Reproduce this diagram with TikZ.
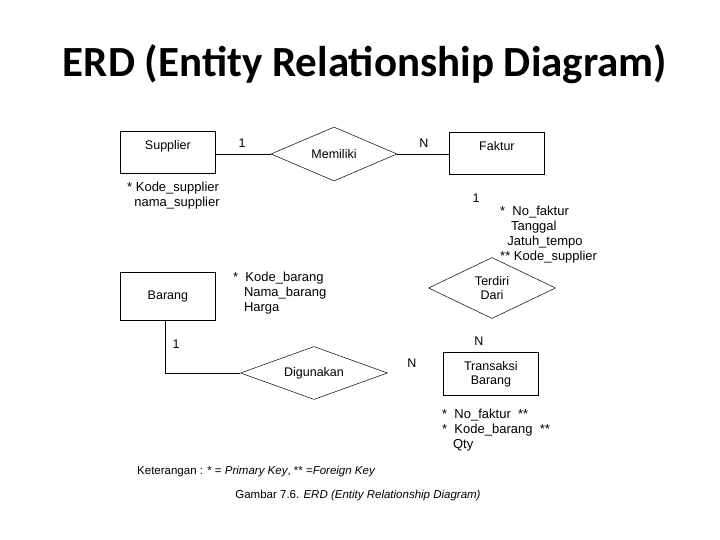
\documentclass[tikz,border=0pt]{standalone}
\usepackage{fontspec}
\setmainfont{Liberation Sans}
\newfontfamily\titlefont{Carlito}
\usetikzlibrary{shapes.geometric}
\begin{document}
\begin{tikzpicture}[x=1pt,y=-1pt,
  ent/.style={draw,line width=0.8pt,minimum width=95pt,minimum height=42pt,inner sep=0pt,font=\fontsize{12.5}{14}\selectfont,align=center},
  rel/.style={draw,line width=0.5pt,diamond,aspect=2.4,inner sep=0pt,font=\fontsize{12.5}{14}\selectfont,align=center},
  lab/.style={font=\fontsize{12.5}{14}\selectfont,inner sep=0pt},
  attr/.style={font=\fontsize{13}{15}\selectfont,inner sep=0pt,align=left,anchor=north west}]
\useasboundingbox[fill=white] (0,0) rectangle (720,540);
\node[font=\titlefont\bfseries\fontsize{43}{45}\selectfont] (title) at (365,64) {ERD (Entity Relationship Diagram)};
\node[ent,anchor=north west,text depth=14pt] (sup) at (120,131) {Supplier};
\node[ent,anchor=north west,text depth=14pt] (fak) at (449,132) {Faktur};
\node[rel,minimum width=126pt,minimum height=54pt] (mem) at (334,154) {Memiliki};
\draw[line width=0.8pt] (sup.east |- mem.west) -- (mem.west);
\draw[line width=0.8pt] (mem.east) -- (fak.west |- mem.east);
\node[lab] (l1) at (242,143) {1};
\node[lab] (n1) at (424,143) {N};
\node[attr] (supa) at (127,182) {* Kode\_supplier\\\ \ nama\_supplier};
\node[lab] (l2) at (476,198) {1};
\node[attr] (faka) at (500,206) {*\ \ No\_faktur\\\ \ \ Tanggal\\\ \ Jatuh\_tempo\\** Kode\_supplier};
\node[rel,minimum width=127pt,minimum height=61pt] (ter) at (492,288) {Terdiri\\Dari};
\node[ent,anchor=north west,minimum height=48pt] (bar) at (120,272) {Barang};
\node[attr] (bara) at (233,272) {*\ \ Kode\_barang\\\ \ \ Nama\_barang\\\ \ \ Harga};
\node[rel,minimum width=147pt,minimum height=53pt] (dig) at (314,373) {Digunakan};
\draw[line width=0.8pt] (165,320) |- (dig.west);
\node[lab] (l3) at (176,344) {1};
\node[lab] (n2) at (412,363) {N};
\node[lab] (n3) at (479,341) {N};
\node[ent,anchor=north west,minimum height=43pt] (tra) at (443,352) {Transaksi\\Barang};
\node[attr] (traa) at (442,409) {*\ \ No\_faktur\ \ **\\*\ \ Kode\_barang\ \ **\\\ \ \ Qty};
\node[lab,anchor=west,font=\fontsize{11.5}{13}\selectfont] (ket) at (137,472) {Keterangan : * = \textit{Primary Key}, ** =\textit{Foreign Key}};
\node[lab,font=\fontsize{11.5}{13}\selectfont] (cap) at (358,496) {Gambar 7.6. \textit{ERD (Entity Relationship Diagram)}};
\end{tikzpicture}
\end{document}
